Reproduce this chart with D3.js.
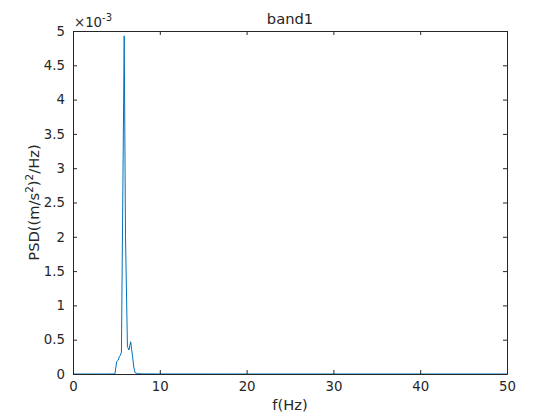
<!DOCTYPE html>
<html>
<head>
<meta charset="utf-8">
<script src="https://cdn.jsdelivr.net/npm/d3@7"></script>
<style>
  body { margin: 0; background: #fff; }
  text { font-family: "DejaVu Sans", sans-serif; fill: #262626; }
</style>
</head>
<body>
<div id="chart"></div>
<script>
// frequency (Hz) and PSD values (x 1e-3)
const freq = [0, 2, 4, 4.7, 4.84, 5.03, 5.2, 5.33, 5.45, 5.58, 5.9, 6.05, 6.27, 6.45, 6.55, 6.65, 6.75, 6.87, 7.0, 7.15, 7.4, 8, 10, 20, 30, 40, 50];
const psd  = [0, 0, 0, 0.001, 0.005, 0.18, 0.2, 0.25, 0.27, 0.32, 4.93, 2.0, 0.40, 0.35, 0.42, 0.47, 0.36, 0.25, 0.1, 0.02, 0.006, 0.002, 0.0005, 0.0002, 0.0001, 0.0001, 0.0001];
const xTicks = [0, 10, 20, 30, 40, 50];
const yTicks = [0, 0.5, 1, 1.5, 2, 2.5, 3, 3.5, 4, 4.5, 5];

const W = 560, H = 420;
const margin = { top: 31, right: 53, bottom: 46, left: 73 };
const width = W - margin.left - margin.right;
const height = H - margin.top - margin.bottom;
const axisColor = "#262626";

const svg = d3.select("#chart").append("svg")
    .attr("width", W)
    .attr("height", H);

const g = svg.append("g")
    .attr("transform", `translate(${margin.left},${margin.top})`);

const x = d3.scaleLinear().domain([0, 50]).range([0, width]);
const y = d3.scaleLinear().domain([0, 5]).range([height, 0]);

// data line
const data = freq.map((f, i) => ({ f: f, v: psd[i] }));
g.append("path")
    .datum(data)
    .attr("fill", "none")
    .attr("stroke", "#0072BD")
    .attr("stroke-width", 1)
    .attr("d", d3.line().x(d => x(d.f)).y(d => y(d.v)));

// axes, ticks pointing inward (MATLAB style)
function styleAxis(sel) {
    sel.select(".domain").attr("stroke", axisColor);
    sel.selectAll(".tick line").attr("stroke", axisColor);
    sel.selectAll(".tick text").style("font-size", "13.3px").attr("fill", axisColor);
}

g.append("g")
    .attr("transform", `translate(0,${height})`)
    .call(d3.axisBottom(x).tickValues(xTicks).tickSize(-4).tickPadding(8).tickSizeOuter(0))
    .call(styleAxis);

g.append("g")
    .call(d3.axisTop(x).tickValues(xTicks).tickSize(-4).tickFormat("").tickSizeOuter(0))
    .call(styleAxis);

g.append("g")
    .call(d3.axisLeft(y).tickValues(yTicks).tickSize(-4).tickPadding(8).tickSizeOuter(0)
        .tickFormat(d => d3.format("")(d)))
    .call(styleAxis);

g.append("g")
    .attr("transform", `translate(${width},0)`)
    .call(d3.axisRight(y).tickValues(yTicks).tickSize(-4).tickFormat("").tickSizeOuter(0))
    .call(styleAxis);

// exponent label
const expo = g.append("text")
    .attr("x", 1)
    .attr("y", -4)
    .style("font-size", "13.3px");
expo.append("tspan").text("\u00d710");
expo.append("tspan").attr("dy", -6).style("font-size", "10px").text("-3");

// title
g.append("text")
    .attr("x", width / 2)
    .attr("y", -7)
    .attr("text-anchor", "middle")
    .style("font-size", "14.7px")
    .text("band1");

// x label
g.append("text")
    .attr("x", width / 2)
    .attr("y", height + 36)
    .attr("text-anchor", "middle")
    .style("font-size", "14.7px")
    .text("f(Hz)");

// y label
const yl = g.append("text")
    .attr("transform", "rotate(-90)")
    .attr("x", -height / 2)
    .attr("y", -34)
    .attr("text-anchor", "middle")
    .style("font-size", "14.7px");
yl.append("tspan").text("PSD((m/s");
yl.append("tspan").attr("dy", -6).style("font-size", "10.5px").text("2");
yl.append("tspan").attr("dy", 6).text(")");
yl.append("tspan").attr("dy", -6).style("font-size", "10.5px").text("2");
yl.append("tspan").attr("dy", 6).text("/Hz)");
</script>
</body>
</html>
